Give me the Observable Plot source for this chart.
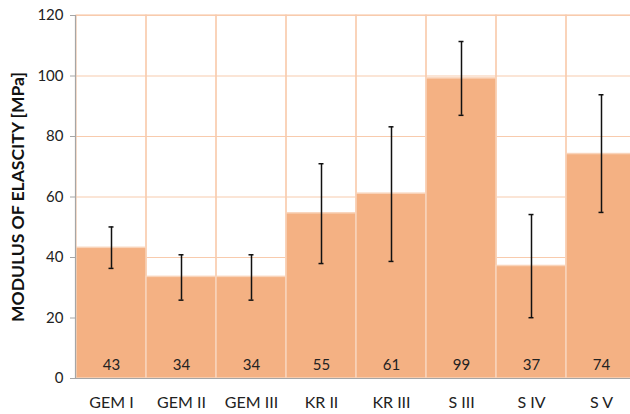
<!DOCTYPE html>
<html>
<head>
<meta charset="utf-8">
<script src="https://cdn.jsdelivr.net/npm/d3@7"></script>
<script src="https://cdn.jsdelivr.net/npm/@observablehq/plot@0.6"></script>
<style>
  body { margin: 0; background: white; overflow: hidden; }
  #chart svg { display: block; }
</style>
</head>
<body>
<div id="chart"></div>
<script>
const categories = ["GEM I", "GEM II", "GEM III", "KR II", "KR III", "S III", "S IV", "S V"];
const means = [43.2, 33.6, 33.6, 54.6, 61.1, 99.2, 37.2, 74.2];
const labels = ["43", "34", "34", "55", "61", "99", "37", "74"];
const errLow = [36.4, 25.9, 25.9, 38.0, 38.7, 87.0, 20.1, 54.9];
const errHigh = [50.1, 40.9, 40.9, 71.0, 83.2, 111.4, 54.2, 93.8];
const yTicks = [0, 20, 40, 60, 80, 100, 120];

const data = categories.map((c, i) => ({
  cat: c, mean: means[i], label: labels[i], lo: errLow[i], hi: errHigh[i]
}));

const grid = "#F8CBAD";
const font = "Lato, 'Open Sans', sans-serif";

const chart = Plot.plot({
  width: 630,
  height: 414,
  marginTop: 15,
  marginBottom: 36,
  marginLeft: 75,
  marginRight: 0,
  style: { fontFamily: font, fontSize: "15px", color: "#222", background: "white" },
  x: { domain: categories, range: [75, 637], padding: 0 },
  y: { domain: [0, 120], ticks: yTicks },
  marks: [
    Plot.ruleY(yTicks.filter(d => d > 0), { stroke: grid, strokeWidth: 1.2 }),
    Plot.barY(data, { x: "cat", y1: 0, y2: 120, fill: "none", stroke: grid, strokeWidth: 1.2 }),
    Plot.barY(data, { x: "cat", y: "mean", fill: "#F4B183", stroke: "#F9D4BA", strokeWidth: 1.5 }),
    Plot.ruleX(data, { x: "cat", y1: "lo", y2: "hi", stroke: "#111", strokeWidth: 1.5 }),
    Plot.tickY(data, { x: "cat", y: "lo", stroke: "#111", strokeWidth: 1.5, insetLeft: 32.5, insetRight: 32.5 }),
    Plot.tickY(data, { x: "cat", y: "hi", stroke: "#111", strokeWidth: 1.5, insetLeft: 32.5, insetRight: 32.5 }),
    Plot.text(data, { x: "cat", y: 0, text: "label", dy: -13, fill: "#222", fontSize: 15 }),
    Plot.ruleY([0], { stroke: "#A6A6A6", strokeWidth: 1.2 }),
    Plot.frame({ anchor: "left", stroke: "#A6A6A6", strokeWidth: 1.2 }),
    Plot.axisY({ ticks: yTicks, tickSize: 5, tickPadding: 7, stroke: "#A6A6A6", fontSize: 15, label: null }),
    Plot.axisX({ tickSize: 0, tickPadding: 18, fontSize: 16, label: null }),
    Plot.text(["MODULUS OF ELASCITY [MPa]"], { frameAnchor: "left", dx: -57, rotate: -90, textAnchor: "middle", fontSize: 17.5, fontWeight: "bold", fill: "#111" })
  ]
});
document.getElementById("chart").appendChild(chart);
</script>
</body>
</html>
